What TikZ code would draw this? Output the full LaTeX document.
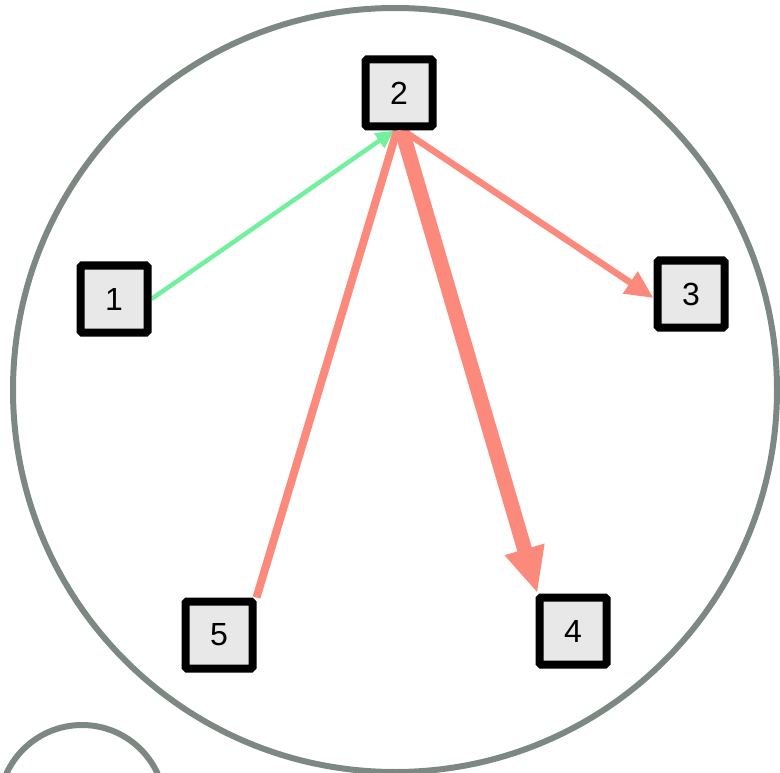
\documentclass[tikz,border=0pt]{standalone}
\usepackage{fontspec}
\setmainfont{Liberation Sans}
\usetikzlibrary{arrows.meta,backgrounds}
\definecolor{ringgray}{HTML}{7E8883}
\definecolor{salmonc}{HTML}{FC8A7C}
\definecolor{greenc}{HTML}{72F0A0}
\definecolor{boxfill}{HTML}{E8E8E8}
\tikzset{
  vbox/.style={draw=black, fill=boxfill, line width=8pt, minimum size=67pt, inner sep=0pt, rounded corners=1.5pt, font=\fontsize{32}{32}\selectfont},
  ring/.style={draw=ringgray, line width=6pt},
  greenedge/.style={draw=greenc, line width=4.5pt, -{Triangle[length=18pt,width=17pt]}},
  redthin/.style={draw=salmonc, line width=6.5pt, -{Triangle[length=28pt,width=25pt]}},
  redplain/.style={draw=salmonc, line width=8pt},
  redthick/.style={draw=salmonc, line width=15pt, -{Triangle[length=46pt,width=38pt]}},
}
\begin{document}
\begin{tikzpicture}[x=1pt,y=-1pt]
\useasboundingbox (0,0) rectangle (780,773);
\node[vbox] (n1) at (114,299) {1};
\node[vbox] (n2) at (399,93) {2};
\node[vbox] (n3) at (691,294) {3};
\node[vbox] (n4) at (573,631) {4};
\node[vbox] (n5) at (219,635) {5};
\begin{scope}[on background layer]
\node[ring, circle, minimum size=764pt, inner sep=0pt] (bigring) at (395,390) {};
\node[ring, circle, minimum size=166pt, inner sep=0pt] (smallring) at (82,808) {};
\draw[greenedge] (n1.east) -- ([xshift=-5pt]n2.south);
\draw[redplain] (n5.north east) -- ([xshift=-2pt]n2.south);
\draw[redthin] ([xshift=4pt]n2.south) -- ([yshift=-4pt]n3.west);
\draw[redthick] ([xshift=3pt]n2.south) -- ([xshift=2pt]n4.north west);
\end{scope}
\end{tikzpicture}
\end{document}
